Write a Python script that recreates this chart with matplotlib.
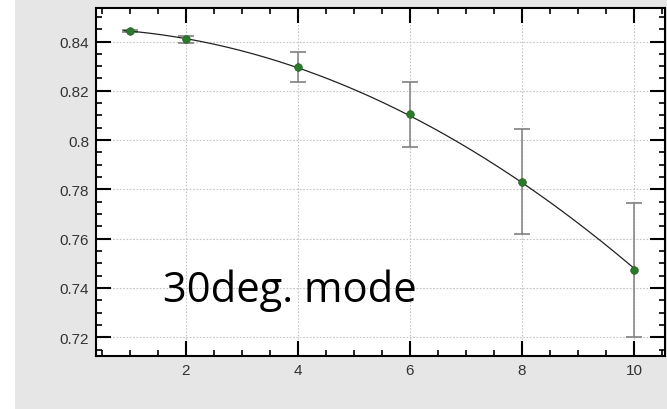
import numpy as np
import matplotlib
matplotlib.use('Agg')
import matplotlib.pyplot as plt
from matplotlib.patches import Rectangle
from matplotlib.ticker import MultipleLocator

# measured points: x, mean value, symmetric error
x_vals = [1, 2, 4, 6, 8, 10]
y_vals = [0.8443, 0.8409, 0.8295, 0.8104, 0.7831, 0.7473]
y_err = [0.0005, 0.0015, 0.0061, 0.0130, 0.0213, 0.0270]

y_ticks = [0.72, 0.74, 0.76, 0.78, 0.80, 0.82, 0.84]
y_tick_labels = ['0.72', '0.74', '0.76', '0.78', '0.8', '0.82', '0.84']
x_ticks = [2, 4, 6, 8, 10]
mode_label = '30deg. mode'

fig = plt.figure(figsize=(6.67, 4.10), dpi=100)
fig.patch.set_facecolor('white')
fig.patches.append(Rectangle((15 / 667, 0), 1 - 15 / 667, 1, transform=fig.transFigure,
                             facecolor='#e6e6e6', edgecolor='none', zorder=-10))

ax = fig.add_axes([96 / 667, 53 / 410, 569 / 667, 348 / 410])
ax.set_facecolor('white')

# quadratic fit through the points, weighted by errors
coef = np.polyfit(x_vals, y_vals, 2, w=1 / np.array(y_err) ** 0.5)
xs = np.linspace(0.9, 10.05, 200)
ax.plot(xs, np.polyval(coef, xs), color='#222222', lw=0.9, zorder=3)

ax.errorbar(x_vals, y_vals, yerr=y_err, fmt='none', ecolor='#808080',
            elinewidth=1.1, capsize=6, capthick=1.2, zorder=2)
ax.plot(x_vals, y_vals, 'o', color='#2b7a2b', ms=5.5, mec='#1f5f1f', mew=0.5, zorder=4)

ax.set_xlim(0.4, 10.55)
ax.set_ylim(0.7124, 0.8536)
ax.set_xticks(x_ticks)
ax.set_yticks(y_ticks)
ax.set_yticklabels(y_tick_labels)
ax.xaxis.set_minor_locator(MultipleLocator(0.5))
ax.yaxis.set_minor_locator(MultipleLocator(0.005))

ax.tick_params(which='both', direction='in', top=True, right=True, color='black')
ax.tick_params(which='major', length=11, width=1.5, labelsize=11, labelcolor='#333333', pad=5)
ax.tick_params(which='minor', length=4, width=1.2)
for sp in ax.spines.values():
    sp.set_linewidth(1.5)

ax.grid(True, which='major', color='#c4c4c4', linestyle=(0, (1.5, 1.5)), linewidth=0.8, zorder=0)

for lab in ax.get_xticklabels() + ax.get_yticklabels():
    lab.set_family(['Liberation Sans', 'DejaVu Sans'])

# label placed in pixel coordinates (origin bottom-left)
ax.text(163, 108, mode_label, transform=None, fontsize=30, family=['Open Sans', 'DejaVu Sans'],
        color='black', ha='left', va='baseline', zorder=5)

fig.savefig('out.png', dpi=100)
